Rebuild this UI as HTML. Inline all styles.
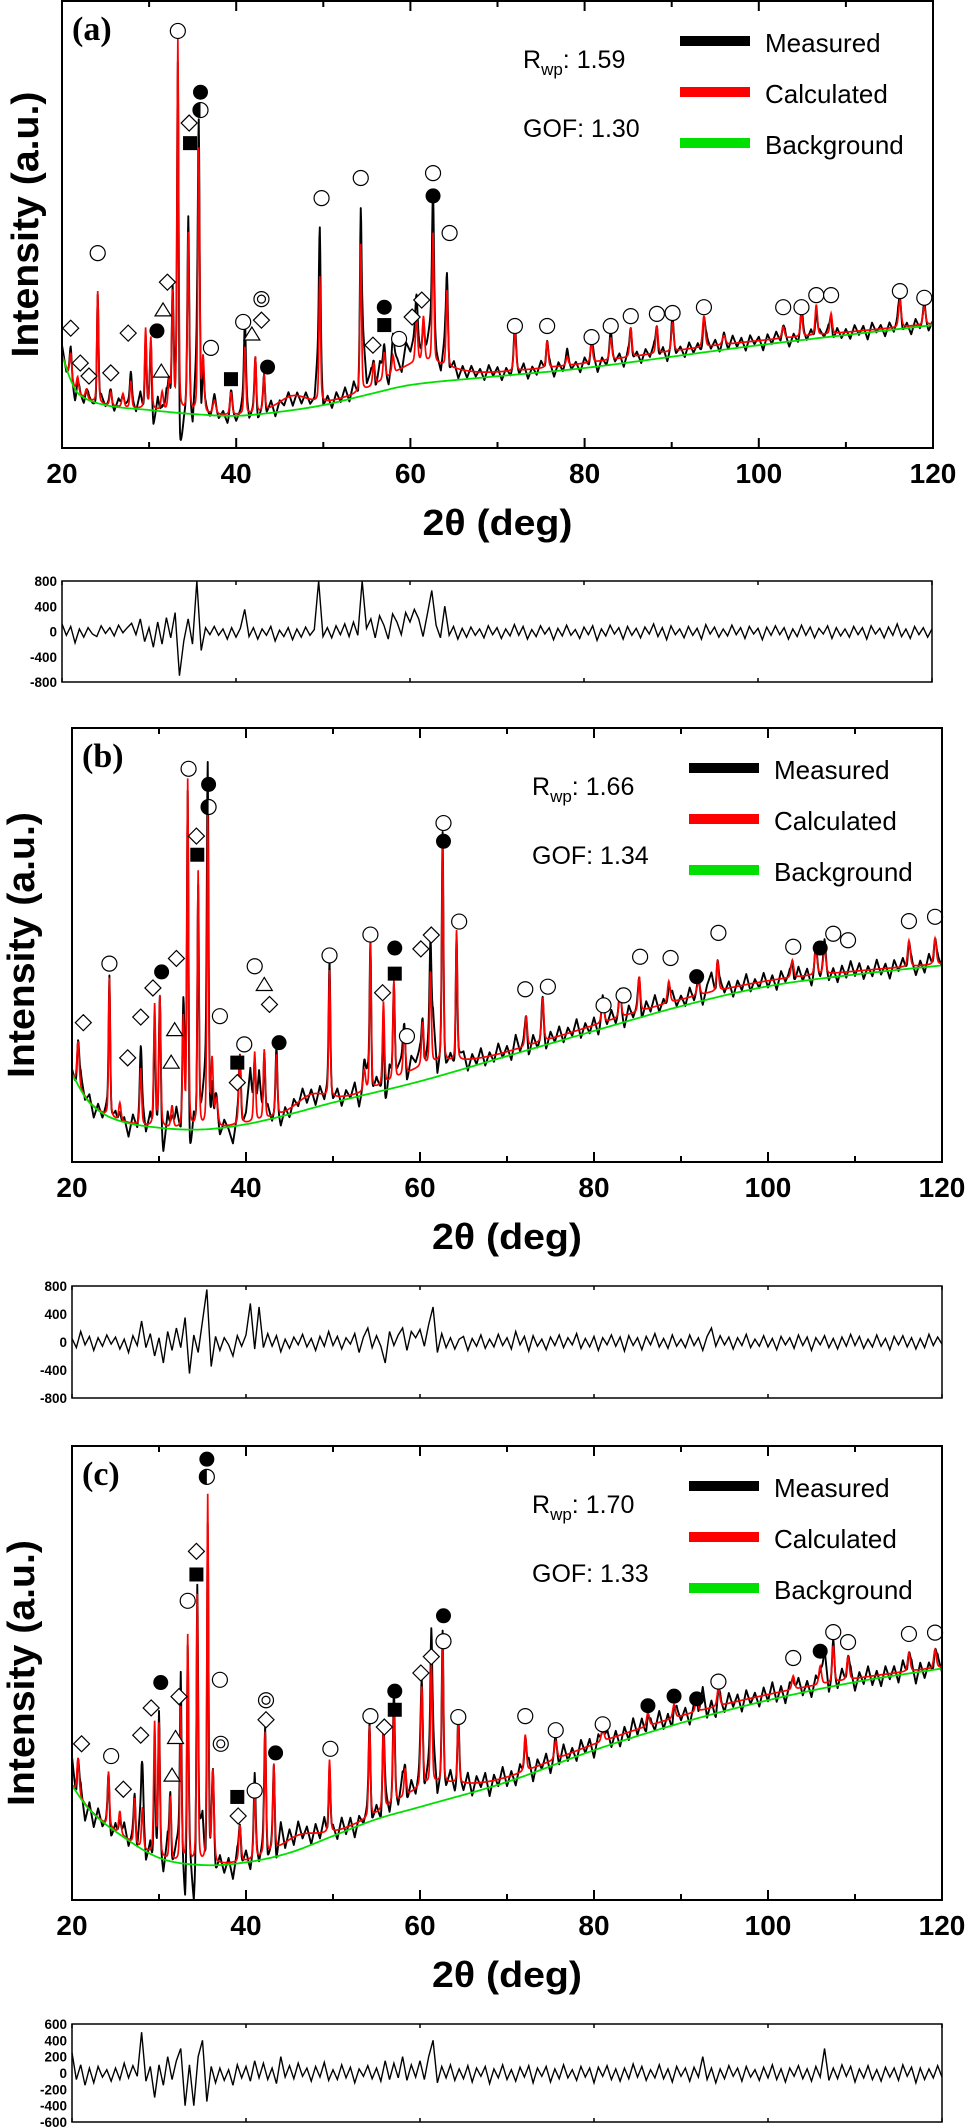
<!DOCTYPE html>
<html><head><meta charset="utf-8"><title>XRD Rietveld refinement</title>
<style>
html,body{margin:0;padding:0;background:#fff;}
svg{display:block;}
</style></head>
<body>
<svg id="fig" xmlns="http://www.w3.org/2000/svg" width="968" height="2127" viewBox="0 0 968 2127">
<rect x="0" y="0" width="968" height="2127" fill="#fff"/>
</svg>
<script>
// ---------- shared axis data ----------
const xTicks=[20,40,60,80,100,120];
const xMinor=[30,50,70,90,110];
const resTicksAB=[800,400,0,-400,-800];
const resTicksC=[600,400,200,0,-200,-400,-600];

// ---------- panel (a) ----------
const aBgX=[20,21,22,25,30,35,40,45,50,55,60,68,80,100,120];
const aBgY=[20.8,15.2,11.9,9.6,8.5,7.6,7.2,8.1,9.6,11.9,14.1,15.7,17.9,23.0,27.5];
const aPeakPos=[21.0,21.8,22.8,24.1,25.6,27.0,27.9,29.6,30.2,31.5,32.3,32.7,33.3,34.5,35.7,36.2,37.5,39.4,41.0,42.2,43.2,46.5,49.6,54.3,55.8,57.0,58.0,60.7,61.5,62.6,64.2,61.0,72.0,75.7,78.0,80.8,83.0,85.3,88.3,90.1,93.7,96.0,102.8,104.9,106.6,108.3,116.2,119.0,90.0];
const aPeakH=[6,3.5,2,25,3,3,6,18,16,4,6,26,83,40,59,12,3,5,15,12.5,8,3,28,33,5,6,4,10,10,29,17,4.5,8.8,6,2,4.5,5,6.5,6,6.5,7,2,2.5,5,6.8,4.5,6,4,1.2];
const aPeakW=[0.3,0.3,0.3,0.22,0.3,0.3,0.25,0.25,0.25,0.3,0.3,0.25,0.22,0.25,0.25,0.3,0.4,0.3,0.25,0.25,0.25,4,0.22,0.22,0.3,0.3,0.3,0.3,0.3,0.25,0.25,8,0.3,0.3,0.3,0.3,0.3,0.3,0.3,0.3,0.35,0.4,0.35,0.3,0.3,0.3,0.35,0.35,40];
const aResid=[120,-60,80,-180,40,-90,60,-40,-80,90,-30,60,-70,100,-20,60,130,-50,200,-160,60,-250,150,-200,220,-100,300,-700,-150,200,-200,800,-300,60,-50,80,-60,40,-120,60,-90,50,350,-80,60,-120,40,-60,80,-150,20,-80,60,-130,40,-90,70,-60,30,800,-80,60,-100,90,-50,120,-80,150,-60,800,50,200,-100,250,100,-120,280,150,-50,300,150,350,200,-80,280,650,100,-100,400,-60,80,-120,50,-90,70,-60,40,-100,90,-50,60,-110,40,-70,110,-60,80,-120,30,-80,90,-40,60,-130,50,-70,100,-60,30,-110,70,-50,90,-140,40,-70,100,-40,60,-120,80,-60,50,-100,70,-40,120,-80,60,-130,90,-50,40,-100,80,-60,50,-120,110,-40,70,-90,40,-70,100,-50,60,-110,80,-40,50,-130,70,-60,90,-50,60,-120,40,-80,100,-60,70,-100,50,-40,90,-110,60,-70,40,-90,80,-50,60,-120,90,-40,50,-100,70,-60,120,-80,40,-110,80,-50,60,-90,40];
const aMarkType=['d','d','d','o','d','d','f','t','t','d','o','d','s','f','h','o','s','o','t','w','d','f','o','o','d','f','s','o','d','d','o','f','o','o','o','o','o','o','o','o','o','o','o','o','o','o','o'];
const aMarkX=[21.0,22.1,23.1,24.1,25.6,27.6,30.9,31.4,31.6,32.1,33.3,34.6,34.7,35.9,35.9,37.1,39.4,40.8,41.8,42.9,42.9,43.6,49.8,54.3,55.7,57.0,57.0,58.7,60.2,61.3,62.6,62.6,64.5,72.0,75.7,80.8,83.0,85.3,88.3,90.1,93.7,102.8,104.9,106.6,108.3,116.2,119.0];
const aMarkY=[26.8,19.0,16.1,43.6,16.8,25.7,26.2,17.2,30.9,37.1,93.3,72.7,68.2,79.6,75.6,22.4,15.4,28.2,25.5,33.3,28.6,18.1,55.9,60.4,23.0,31.5,27.5,24.4,29.3,33.1,61.5,56.4,48.1,27.3,27.3,24.8,27.3,29.5,30.0,30.2,31.5,31.5,31.5,34.2,34.2,35.1,33.6];

// ---------- panel (b) ----------
const bBgX=[20,22,25,30,35,40,45,50,60,70,80,90,100,110,120];
const bBgY=[20.2,13.7,9.8,7.9,7.5,8.7,11.0,13.7,18.6,24.4,30.2,35.9,40.5,43.2,45.3];
const bPeakPos=[20.7,24.3,25.5,27.9,29.5,30.1,31.5,32.8,33.3,34.5,35.6,36.1,36.6,39.3,41.0,42.1,43.5,47.5,49.6,53.6,54.3,55.8,57.0,58.2,60.3,61.2,62.6,64.2,61.0,72.2,74.1,81.0,83.0,85.2,88.6,92.0,94.2,102.8,105.5,106.5,116.2,119.2,90.0];
const bPeakH=[10,32,4,13,28,30,5,25,80,59,72,15,6,16,16,16,14,3,29,5,34,19,23,10,10,21,51,30,3,7,10,5,5,8,5,3,7,4,6,6,6,6,1.5];
const bPeakW=[0.3,0.22,0.3,0.25,0.25,0.25,0.3,0.25,0.22,0.22,0.22,0.3,0.4,0.3,0.25,0.25,0.25,4,0.22,0.3,0.22,0.25,0.25,0.3,0.3,0.25,0.22,0.22,8,0.3,0.3,0.35,0.35,0.3,0.35,0.4,0.3,0.35,0.35,0.35,0.35,0.35,40];
const bResid=[50,-80,150,-40,80,-120,60,-60,100,-30,70,-100,40,-150,90,-50,300,-80,120,-200,60,-300,150,-120,200,-80,350,-450,100,-150,300,750,-350,80,-120,60,-40,-200,90,-60,100,550,-100,500,-80,120,-60,90,-140,40,-90,70,-40,110,-70,50,-120,80,-60,150,-50,80,-100,60,-30,120,-150,70,200,-80,90,-60,-300,150,-50,100,200,-120,150,60,180,-60,250,500,-150,120,-80,60,-100,40,80,-120,50,-60,100,-90,40,-70,110,-50,60,-100,150,-40,80,-130,90,-60,40,-110,70,-50,100,-80,60,-40,120,-90,50,-70,80,-120,60,-40,100,-60,70,-130,90,-50,60,-110,80,-40,120,-70,50,-90,100,-60,40,-80,100,-50,60,-120,80,200,-60,90,-40,70,-100,60,-50,110,-80,40,-60,90,-70,50,-110,80,-40,60,-90,100,-50,70,-120,60,-40,90,-80,50,-100,70,-60,110,-50,80,-90,40,-70,100,-60,50,-110,80,-40,90,-70,60,-100,50,-80,110,-50,70,-30];
const bMarkType=['d','o','d','d','d','f','d','t','t','o','f','h','d','s','o','s','d','o','o','t','d','f','o','o','d','f','s','o','d','d','o','f','o','o','o','o','o','o','o','f','o','o','f','o','o','o','o'];
const bMarkX=[21.3,24.3,26.4,27.9,29.3,30.3,32.0,31.8,31.4,33.4,35.7,35.7,34.3,34.4,37.0,39.0,39.0,39.8,41.0,42.1,42.7,43.8,49.6,54.3,55.7,57.1,57.1,58.5,60.1,61.3,62.7,62.7,64.5,72.1,74.7,81.1,83.4,85.3,88.8,91.8,94.3,102.9,106.0,107.5,109.2,116.2,119.2];
const bMarkY=[32.1,45.7,24.0,33.4,40.1,43.8,46.9,30.5,23.0,90.6,87.0,81.8,75.1,70.8,33.6,22.9,18.3,27.1,45.1,40.9,36.3,27.5,47.6,52.4,39.0,49.3,43.4,29.0,49.1,52.3,78.1,73.9,55.4,39.8,40.4,36.1,38.4,47.3,47.0,42.7,52.8,49.6,49.3,52.6,51.1,55.5,56.5];

// ---------- panel (c) ----------
const cBgX=[20,22,25,30,35,40,45,50,55,60,70,80,90,100,110,120];
const cBgY=[25.2,19.9,15.1,9.3,7.7,8.3,10.4,14.1,17.8,20.5,26,33,39,44,48,51];
const cPeakPos=[20.7,24.2,25.5,27.2,28.1,29.5,30.0,31.3,32.5,33.3,34.4,35.6,36.2,39.3,41.0,42.2,43.2,46.0,49.6,54.2,55.8,57.0,58.3,60.2,61.3,62.6,64.4,61.0,72.1,75.6,81.0,86.2,89.2,91.8,94.3,102.9,106.0,107.5,109.2,116.2,119.2,90.0];
const cPeakH=[8,12,5,10,9,29,29,14,34,50,59,81,20,8,15,27,19,3,16,20,18,22,6,22,26,32,14,4,8,4,3,3,3,3,4,3,4,8,5,4,4,1.5];
const cPeakW=[0.3,0.25,0.3,0.25,0.25,0.25,0.25,0.25,0.22,0.22,0.22,0.22,0.3,0.3,0.25,0.25,0.25,5,0.25,0.25,0.25,0.25,0.3,0.3,0.25,0.22,0.25,8,0.3,0.35,0.35,0.35,0.35,0.35,0.35,0.35,0.35,0.3,0.35,0.35,0.35,40];
const cResid=[250,-80,100,-150,60,-120,80,-50,40,-100,60,-80,120,-60,90,-40,500,-100,80,-300,100,-150,200,-80,150,300,-400,100,-400,200,400,-350,80,-120,60,-90,40,-150,100,-60,80,-100,150,-60,120,-80,60,-130,200,-50,90,-70,120,-40,60,-100,80,-50,130,-90,40,-80,100,-60,70,-120,50,-40,90,-70,60,-100,150,-80,120,-60,200,-90,100,-50,150,-80,200,400,-120,80,-60,100,-90,50,-70,90,-110,60,-40,80,-130,50,-60,100,-80,40,-100,70,-50,90,-120,60,-40,80,-110,50,-70,100,-60,40,-90,80,-50,60,-120,70,-40,90,-80,50,-100,60,-70,110,-50,80,-90,40,-60,100,-70,50,-110,80,-40,60,-100,70,-50,200,-80,60,-120,50,-70,90,-40,60,-100,80,-50,40,-90,70,-60,100,-80,50,-110,60,-40,90,-70,50,-100,80,-50,300,-90,60,-70,100,-40,80,-110,50,-60,90,-80,40,-100,70,-50,60,-90,100,-40,70,-120,60,-80,50,-60,90,-50];
const cMarkType=['d','o','d','d','d','f','t','t','d','o','s','d','h','f','o','w','s','d','o','w','d','f','o','o','d','s','f','d','d','o','f','o','o','o','o','f','f','f','o','o','f','o','o','o','o'];
const cMarkX=[21.1,24.5,25.9,27.9,29.1,30.2,31.5,31.9,32.3,33.3,34.3,34.3,35.5,35.5,37.0,37.1,39.0,39.1,41.0,42.3,42.3,43.4,49.7,54.3,55.9,57.1,57.1,60.1,61.3,62.7,62.7,64.4,72.1,75.6,81.0,86.2,89.2,91.8,94.3,102.9,106.0,107.5,109.2,116.2,119.2];
const cMarkY=[34.4,31.7,24.4,36.3,42.3,47.9,27.5,35.8,44.8,65.9,71.7,76.8,93.2,97.1,48.5,34.4,22.7,18.5,24.1,44.0,39.7,32.4,33.3,40.5,38.1,41.9,46.0,50,53.6,57,62.6,40.3,40.5,37.4,38.7,42.8,44.9,44.3,48.1,53.3,54.8,59,56.8,58.6,58.9];

// ---------- helpers ----------
const NS='http://www.w3.org/2000/svg';
const svg=document.getElementById('fig');
function mk(tag,attrs,parent){const e=document.createElementNS(NS,tag);for(const k in attrs)e.setAttribute(k,attrs[k]);(parent||svg).appendChild(e);return e;}
function cubic(xs,ys,x){
  if(x<=xs[0])return ys[0];
  if(x>=xs[xs.length-1])return ys[ys.length-1];
  let i=0;while(x>xs[i+1])i++;
  const n=xs.length;
  const slope=j=>{if(j<=0)return (ys[1]-ys[0])/(xs[1]-xs[0]);if(j>=n-1)return (ys[n-1]-ys[n-2])/(xs[n-1]-xs[n-2]);return (ys[j+1]-ys[j-1])/(xs[j+1]-xs[j-1]);};
  const hh=xs[i+1]-xs[i],t=(x-xs[i])/hh,m0=slope(i)*hh,m1=slope(i+1)*hh;
  const t2=t*t,t3=t2*t;
  return (2*t3-3*t2+1)*ys[i]+(t3-2*t2+t)*m0+(-2*t3+3*t2)*ys[i+1]+(t3-t2)*m1;
}
function residAt(res,x){const f=(x-20)/0.5;const i=Math.floor(f);const a=res[Math.max(0,Math.min(res.length-1,i))];const b=res[Math.max(0,Math.min(res.length-1,i+1))];return a+(b-a)*(f-i);}
function profile(pos,h,w,x){let s=0;for(let i=0;i<pos.length;i++){const d=(x-pos[i])/w[i];if(Math.abs(d)>40)continue;s+=h[i]*(0.35/(1+4*d*d)+0.65*Math.exp(-2.7726*d*d));}return s;}

function drawMarker(g,type,cx,cy){
  const r=7.5;let e;
  if(type==='o'){e=mk('circle',{cx,cy,r,fill:'#fff',stroke:'#000','stroke-width':1.2},g);
    }
  else if(type==='f'){e=mk('circle',{cx,cy,r,fill:'#000'},g);
    }
  else if(type==='w'){e=mk('circle',{cx,cy,r,fill:'#fff',stroke:'#000','stroke-width':1.2},g);
    
    const e2=mk('circle',{cx,cy,r:4,fill:'none',stroke:'#000','stroke-width':1.2},g);
    
    }
  else if(type==='h'){e=mk('circle',{cx,cy,r,fill:'#fff',stroke:'#000','stroke-width':1.2},g);
    
    const e2=mk('path',{d:`M${cx},${cy-r} A${r},${r} 0 0 0 ${cx},${cy+r} Z`,fill:'#000'},g);
    
    }
  else if(type==='d'){const q=8;e=mk('polygon',{points:`${cx},${cy-q} ${cx+q},${cy} ${cx},${cy+q} ${cx-q},${cy}`,fill:'#fff',stroke:'#000','stroke-width':1.2},g);
    }
  else if(type==='s'){e=mk('rect',{x:cx-7,y:cy-7,width:14,height:14,fill:'#000'},g);
    }
  else if(type==='t'){e=mk('polygon',{points:`${cx},${cy-7} ${cx+8},${cy+6} ${cx-8},${cy+6}`,fill:'#fff',stroke:'#000','stroke-width':1.2},g);
    }
  
}

function mainPanel(id,L,R,T,B,bgX,bgY,pos,h,w,res,k,mT,mX,mY,label,labelX,rwp,gof,yTitleX){
  const g=mk('g',{});
  
  
  const sx=x=>L+(x-20)/100*(R-L);
  const sy=u=>B-u/100*(B-T);
  const cp=mk('clipPath',{id:'clip-'+id},g);
  mk('rect',{x:L,y:T,width:R-L,height:B-T},cp);
  let dm='',dc='',db='';
  for(let i=0;i<=2000;i++){
    const x=20+i*0.05;
    const bg=cubic(bgX,bgY,x);
    const c=bg+profile(pos,h,w,x);
    const m=c+k*residAt(res,x);
    dm+=(i?'L':'M')+sx(x).toFixed(2)+','+sy(m).toFixed(2);
    dc+=(i?'L':'M')+sx(x).toFixed(2)+','+sy(c).toFixed(2);
    if(i%5===0)db+=(i?'L':'M')+sx(x).toFixed(2)+','+sy(bg).toFixed(2);
  }
  const lm=mk('path',{d:dm,fill:'none',stroke:'#000','stroke-width':1.9,'stroke-linejoin':'round','clip-path':`url(#clip-${id})`},g);
  
  
  const lc=mk('path',{d:dc,fill:'none',stroke:'#ff0000','stroke-width':1.7,'clip-path':`url(#clip-${id})`},g);
  
  
  const lb=mk('path',{d:db,fill:'none',stroke:'#00e000','stroke-width':1.8,'clip-path':`url(#clip-${id})`},g);
  
  
  for(let i=0;i<mT.length;i++)drawMarker(g,mT[i],sx(mX[i]),sy(mY[i]));
  const fr=mk('rect',{x:L,y:T,width:R-L,height:B-T,fill:'none',stroke:'#000','stroke-width':2},g);
  
  
  xTicks.forEach(t=>{
    const tb=mk('line',{x1:sx(t),x2:sx(t),y1:B,y2:B-10,stroke:'#000','stroke-width':2},g);
    
    
    const tt=mk('line',{x1:sx(t),x2:sx(t),y1:T,y2:T+10,stroke:'#000','stroke-width':2},g);
    
    
    const tl=mk('text',{x:sx(t),y:B+35,'text-anchor':'middle','font-family':'Liberation Sans, Arial, sans-serif','font-weight':'bold','font-size':28},g);
    tl.textContent=t;
    
    
  });
  xMinor.forEach(t=>{
    const a=mk('line',{x1:sx(t),x2:sx(t),y1:B,y2:B-6,stroke:'#000','stroke-width':2},g);
    
    
    const b=mk('line',{x1:sx(t),x2:sx(t),y1:T,y2:T+6,stroke:'#000','stroke-width':2},g);
    
    
  });
  const xt=mk('text',{x:(L+R)/2,y:B+87,'text-anchor':'middle','font-family':'Liberation Sans, Arial, sans-serif','font-weight':'bold','font-size':36,textLength:150,lengthAdjust:'spacingAndGlyphs'},g);
  xt.textContent='2θ (deg)';
  
  
  const cy=(T+B)/2;
  const yt=mk('text',{x:yTitleX,y:cy,'text-anchor':'middle','dominant-baseline':'central','font-family':'Liberation Sans, Arial, sans-serif','font-weight':'bold','font-size':38,textLength:266,lengthAdjust:'spacingAndGlyphs',transform:`rotate(-90 ${yTitleX} ${cy})`},g);
  yt.textContent='Intensity (a.u.)';
  
  
  const pl=mk('text',{x:labelX,y:T+39,'font-family':'Liberation Serif, Times New Roman, serif','font-weight':'bold','font-size':34},g);
  pl.textContent=label;
  
  
  const rx=R-410;
  const rt=mk('text',{x:rx,y:T+67,'font-family':'Liberation Sans, Arial, sans-serif','font-size':25},g);
  
  
  const s1=mk('tspan',{},rt);s1.textContent='R';
  
  
  const s2=mk('tspan',{'font-size':17,dy:7},rt);s2.textContent='wp';
  
  
  const s3=mk('tspan',{dy:-7},rt);s3.textContent=': '+rwp;
  
  
  const gt=mk('text',{x:rx,y:T+136,'font-family':'Liberation Sans, Arial, sans-serif','font-size':25},g);
  gt.textContent='GOF: '+gof;
  
  
  const leg=[['Measured','#000'],['Calculated','#ff0000'],['Background','#00e000']];
  leg.forEach((e,i)=>{
    const yy=T+40+i*51;
    const ln=mk('rect',{x:R-253,y:yy-5,width:70,height:10,fill:e[1]},g);
    
    
    const tx=mk('text',{x:R-168,y:yy+11,'font-family':'Liberation Sans, Arial, sans-serif','font-size':26},g);
    tx.textContent=e[0];
    
    
  });
}

function residPanel(id,L,R,T,B,res,max,ticks,labR){
  const g=mk('g',{});
  
  
  const sx=x=>L+(x-20)/100*(R-L);
  const sy=v=>(T+B)/2-v/max*(B-T)/2;
  let d='';
  res.forEach((v,i)=>{const x=20+i*0.5;d+=(i?'L':'M')+sx(x).toFixed(2)+','+sy(Math.max(-max,Math.min(max,v))).toFixed(2);});
  const p=mk('path',{d,fill:'none',stroke:'#000','stroke-width':1.4},g);
  
  
  const fr=mk('rect',{x:L,y:T,width:R-L,height:B-T,fill:'none',stroke:'#000','stroke-width':1.5},g);
  
  
  xTicks.forEach(t=>{
    const a=mk('line',{x1:sx(t),x2:sx(t),y1:B,y2:B-4,stroke:'#000','stroke-width':1.5},g);
    
    
    const b=mk('line',{x1:sx(t),x2:sx(t),y1:T,y2:T+4,stroke:'#000','stroke-width':1.5},g);
    
    
  });
  ticks.forEach(t=>{
    const tx=mk('text',{x:labR,y:sy(t)+5,'text-anchor':'end','font-family':'Liberation Sans, Arial, sans-serif','font-weight':'bold','font-size':13.5},g);
    tx.textContent=t;
    
    
  });
}

mainPanel('a',62,933,1,448,aBgX,aBgY,aPeakPos,aPeakH,aPeakW,aResid,0.0175,aMarkType,aMarkX,aMarkY,'(a)',72,'1.59','1.30',26);
residPanel('a',62,932,581,682,aResid,800,resTicksAB,57);
mainPanel('b',72,942,728,1162,bBgX,bBgY,bPeakPos,bPeakH,bPeakW,bResid,0.022,bMarkType,bMarkX,bMarkY,'(b)',82,'1.66','1.34',22);
residPanel('b',72,942,1286,1398,bResid,800,resTicksAB,67);
mainPanel('c',72,942,1446,1900,cBgX,cBgY,cPeakPos,cPeakH,cPeakW,cResid,0.025,cMarkType,cMarkX,cMarkY,'(c)',82,'1.70','1.33',22);
residPanel('c',72,942,2024,2122,cResid,600,resTicksC,67);
</script>
</body></html>
